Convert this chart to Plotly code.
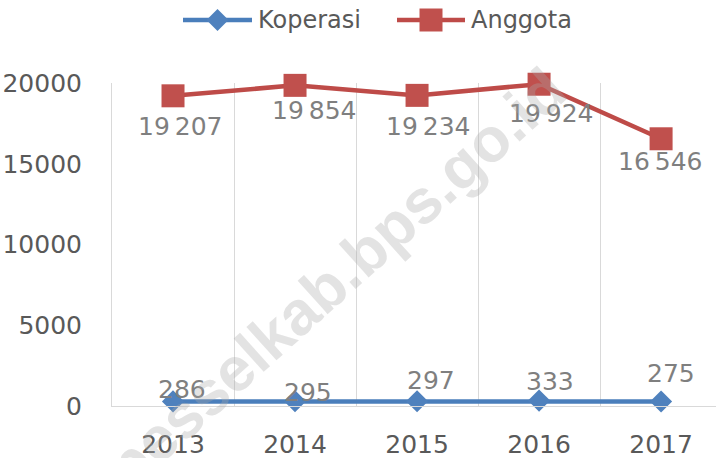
import plotly.graph_objects as go

years = ["2013", "2014", "2015", "2016", "2017"]
koperasi = [286, 295, 297, 333, 275]
anggota = [19207, 19854, 19234, 19924, 16546]
y_ticks = [0, 5000, 10000, 15000, 20000]

BLUE_LINE = "#4A7EBB"
BLUE_MARK = "#4F81BD"
RED_LINE = "#BE4B48"
RED_MARK = "#C0504D"
GRID = "#D9D9D9"
TICK = "#595959"
LABEL = "#7F7F7F"
FONT = "DejaVu Sans"

W, H = 716, 458
ML, MT, MB, MR = 112, 83, 52, 0
PW, PH = W - ML - MR, H - MT - MB


def fmt(v):
    return f"{v:,}".replace(",", "\u2009")


def px_to_paper(px, py):
    return (px - ML) / PW, (H - MB - py) / PH


fig = go.Figure()
fig.add_trace(go.Scatter(
    x=years, y=koperasi, mode="lines+markers", name="Koperasi",
    line=dict(color=BLUE_LINE, width=4.5),
    marker=dict(symbol="diamond", size=17, color=BLUE_MARK, line=dict(width=0)),
    cliponaxis=False, showlegend=False, hoverinfo="skip"))
fig.add_trace(go.Scatter(
    x=years, y=anggota, mode="lines+markers", name="Anggota",
    line=dict(color=RED_LINE, width=4.5),
    marker=dict(symbol="square", size=23, color=RED_MARK, line=dict(width=0)),
    cliponaxis=False, showlegend=False, hoverinfo="skip"))

# data label offsets (pixels) as in the reference
kop_shift = [(9, 12), (13, 9), (14, 21), (11, 19), (10, 28)]
ang_shift = [(7, -31), (19, -25), (11, -31), (12, -29), (-1, -23)]

annotations = []
for i, (v, (dx, dy)) in enumerate(zip(koperasi, kop_shift)):
    annotations.append(dict(x=i, y=v, xref="x", yref="y", text=fmt(v), showarrow=False,
                            xshift=dx, yshift=dy, xanchor="center", yanchor="middle",
                            font=dict(family=FONT, size=25, color=LABEL)))
for i, (v, (dx, dy)) in enumerate(zip(anggota, ang_shift)):
    annotations.append(dict(x=i, y=v, xref="x", yref="y", text=fmt(v), showarrow=False,
                            xshift=dx, yshift=dy, xanchor="center", yanchor="middle",
                            font=dict(family=FONT, size=25, color=LABEL)))

# watermark
wx, wy = px_to_paper(335, 278)
annotations.append(dict(x=wx, y=wy, xref="paper", yref="paper", text="<b>pesselkab.bps.go.id</b>",
                        showarrow=False, textangle=-42, xanchor="center", yanchor="middle",
                        font=dict(family="Liberation Sans", size=62, color="rgba(170,170,170,0.33)")))

# custom legend
shapes = []
leg_y = px_to_paper(0, 20)[1]
legend_items = [
    ("Koperasi", BLUE_LINE, BLUE_MARK, "diamond", 183, 252, 256),
    ("Anggota", RED_LINE, RED_MARK, "square", 397, 465, 469),
]
for name, lc, mc, sym, x0, x1, tx in legend_items:
    px0 = px_to_paper(x0, 0)[0]
    px1 = px_to_paper(x1, 0)[0]
    pc = px_to_paper((x0 + x1) / 2, 0)[0]
    shapes.append(dict(type="line", xref="paper", yref="paper", x0=px0, x1=px1, y0=leg_y, y1=leg_y,
                       line=dict(color=lc, width=4.5)))
    if sym == "diamond":
        shapes.append(dict(type="path", xref="paper", yref="paper", xsizemode="pixel", ysizemode="pixel",
                           xanchor=pc, yanchor=leg_y, path="M -11 0 L 0 11 L 11 0 L 0 -11 Z",
                           fillcolor=mc, line=dict(width=0)))
    else:
        shapes.append(dict(type="rect", xref="paper", yref="paper", xsizemode="pixel", ysizemode="pixel",
                           xanchor=pc, yanchor=leg_y, x0=-11.5, x1=11.5, y0=-11.5, y1=11.5,
                           fillcolor=mc, line=dict(width=0)))
    annotations.append(dict(x=px_to_paper(tx, 0)[0], y=leg_y, xref="paper", yref="paper", text=name,
                            showarrow=False, xanchor="left", yanchor="middle",
                            font=dict(family=FONT, size=24, color=TICK)))

fig.update_layout(
    width=W, height=H,
    margin=dict(l=ML, r=MR, t=MT, b=MB, autoexpand=False),
    paper_bgcolor="white", plot_bgcolor="white",
    showlegend=False,
    hovermode=False,
    annotations=annotations,
    shapes=shapes,
    xaxis=dict(type="category", range=[-0.5, 4.45], tickson="boundaries",
               showgrid=True, gridcolor=GRID, gridwidth=1,
               showline=True, linecolor=GRID, linewidth=1,
               ticks="", ticklabelstandoff=16, automargin=False, fixedrange=True,
               tickfont=dict(family=FONT, size=25, color=TICK)),
    yaxis=dict(range=[0, 20000], tickvals=y_ticks, ticktext=[str(t) for t in y_ticks],
               showgrid=False, zeroline=False,
               showline=True, linecolor=GRID, linewidth=1,
               ticks="", ticklabelstandoff=24, automargin=False, fixedrange=True,
               tickfont=dict(family=FONT, size=25, color=TICK)),
)

fig.write_html("out.html", config={"displayModeBar": False, "staticPlot": True},
               post_script="document.body.style.margin='0';document.body.style.overflow='hidden';")
